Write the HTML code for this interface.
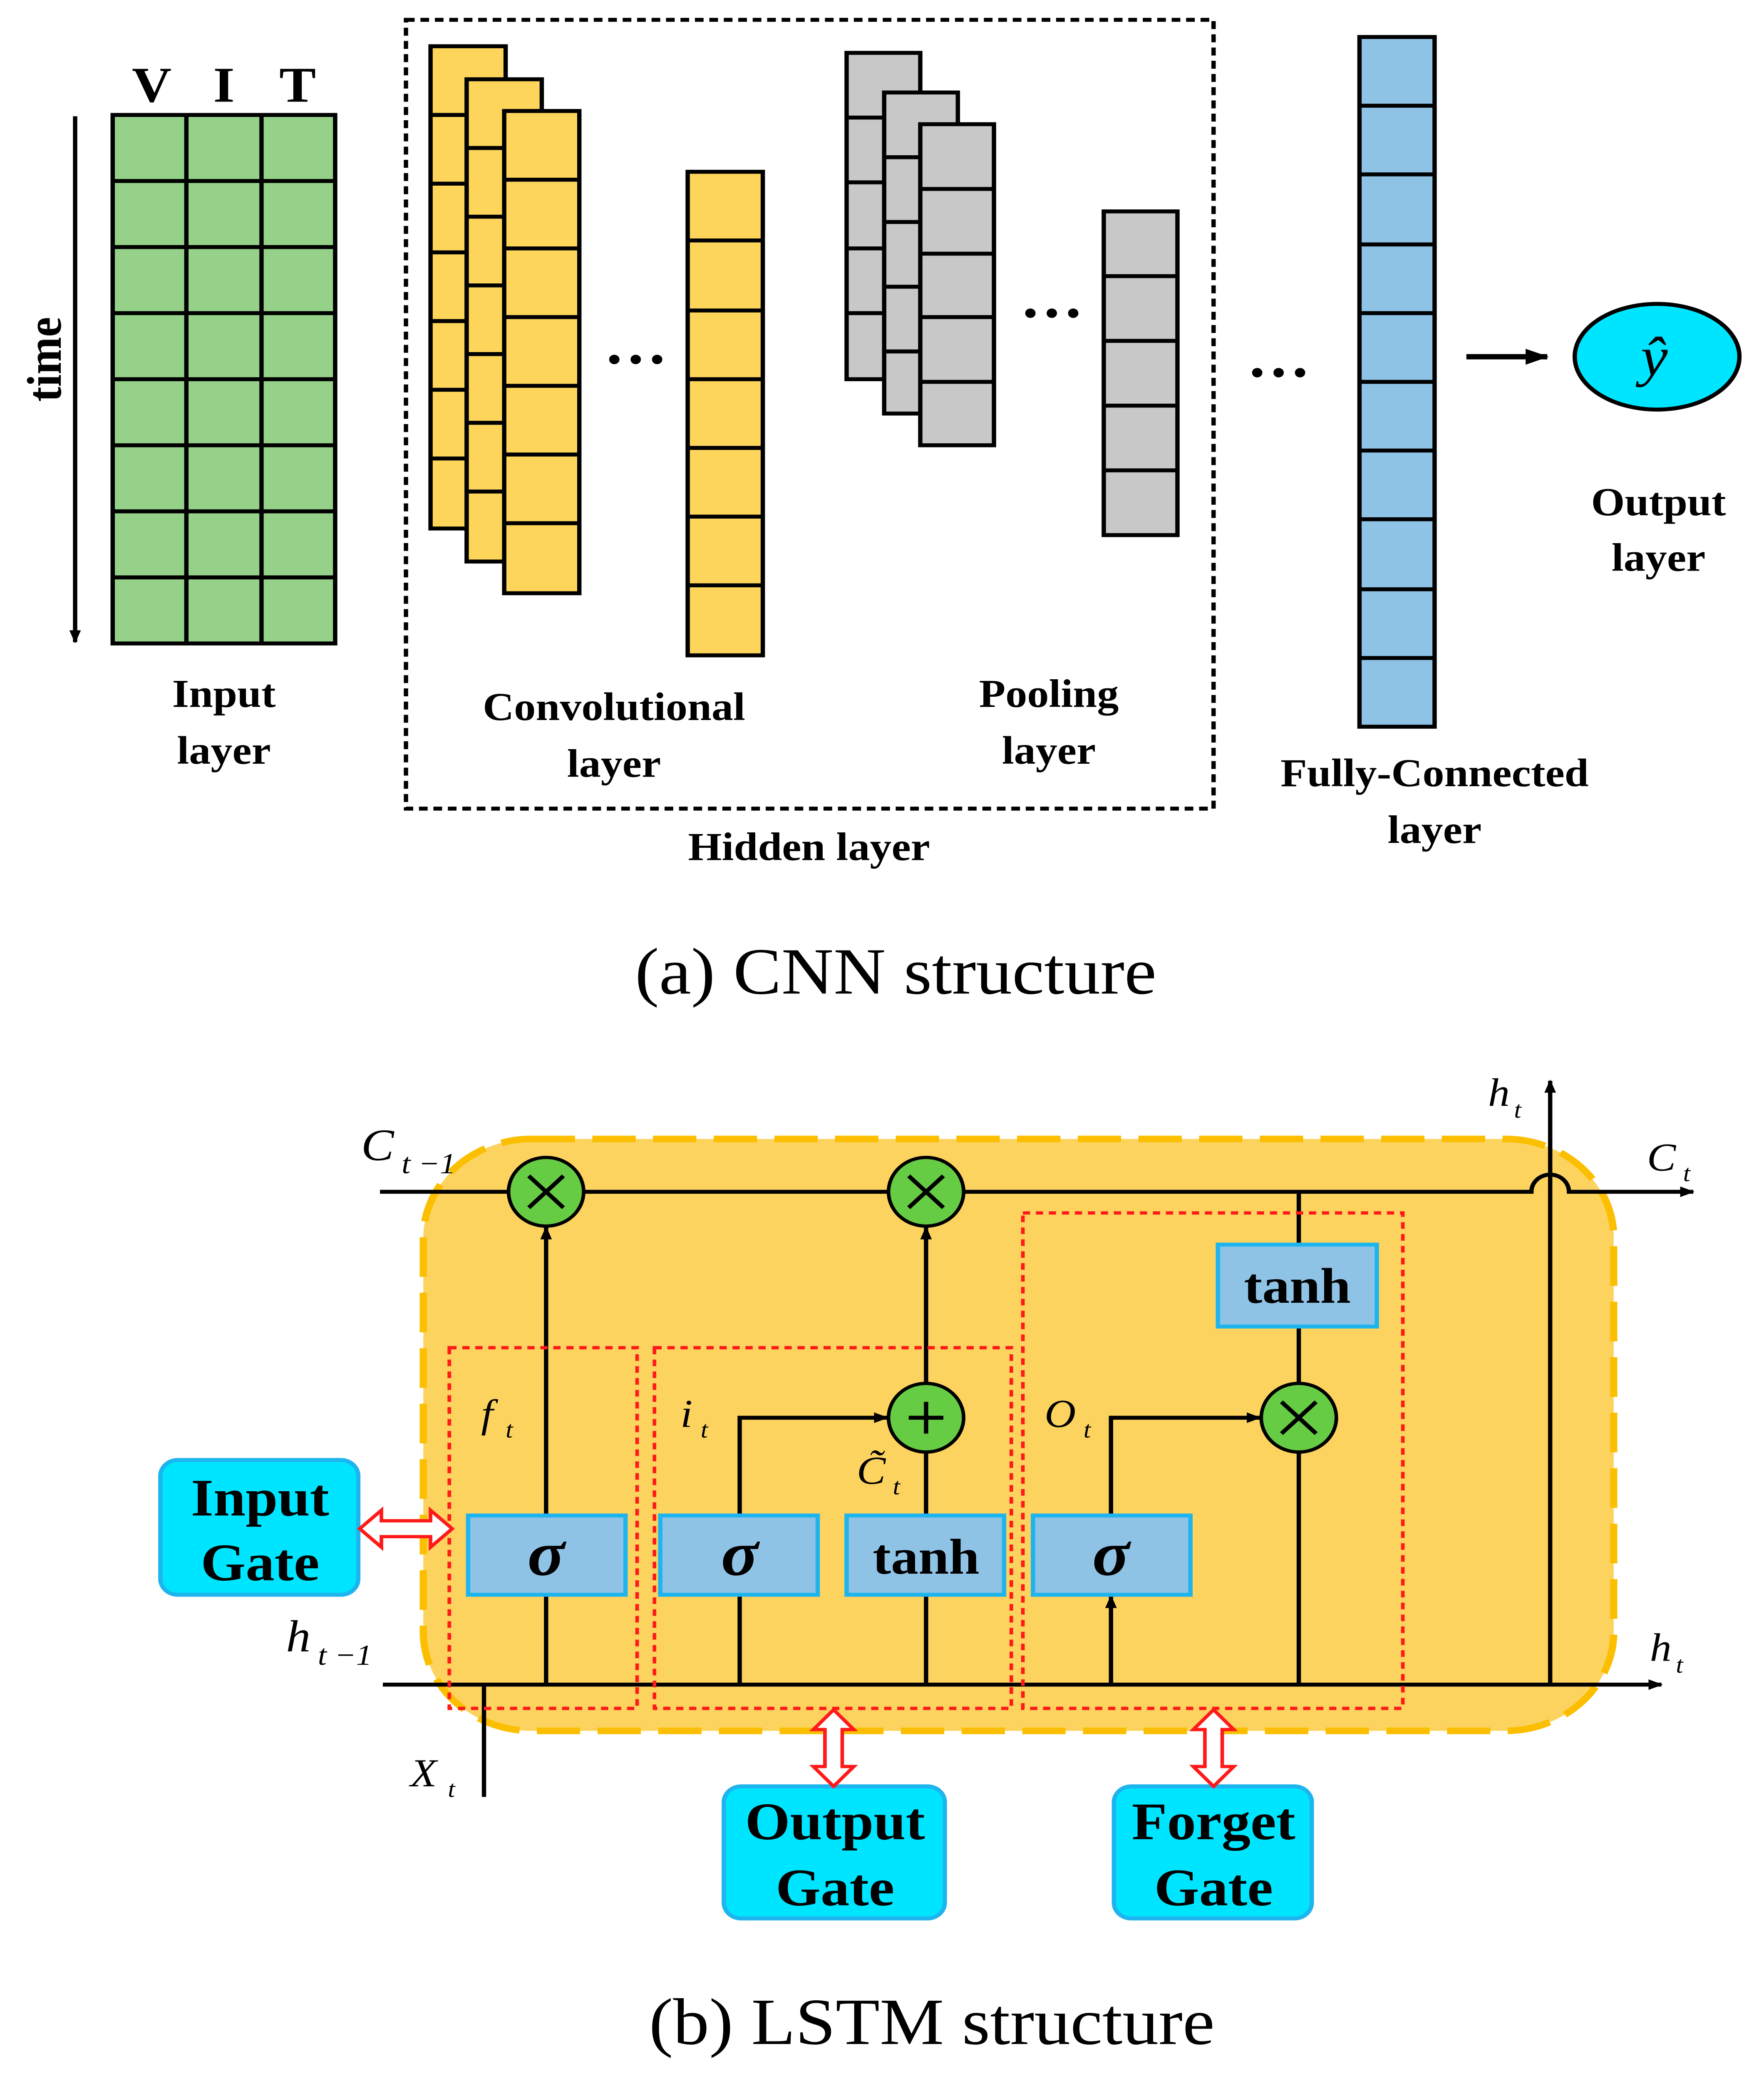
<!DOCTYPE html>
<html><head><meta charset="utf-8"><style>
html,body{margin:0;padding:0;background:#fff;width:100vw;height:100vh;overflow:hidden;}
svg{display:block;width:100vw;height:100vh;}
text{font-family:"Liberation Serif",serif;}
.b{font-weight:bold;text-anchor:middle;}
.i{font-style:italic;}
</style></head><body>
<svg viewBox="0 0 1221 1575" preserveAspectRatio="none" xmlns="http://www.w3.org/2000/svg">
<defs>
<marker id="ar" markerWidth="10" markerHeight="10" refX="9" refY="5" orient="auto" markerUnits="userSpaceOnUse"><path d="M0,1 L10,5 L0,9 Z" fill="#000"/></marker>
<marker id="ar2" markerWidth="16" markerHeight="14" refX="15" refY="7" orient="auto" markerUnits="userSpaceOnUse"><path d="M0,1 L16,7 L0,13 Z" fill="#000"/></marker>
</defs>
<rect width="1221" height="1575" fill="#fff"/>

<text x="105" y="77" class="b" style="font-size:38px">V</text>
<text x="155" y="77" class="b" style="font-size:38px">I</text>
<text x="206" y="77" class="b" style="font-size:38px">T</text>
<rect x="78" y="87" width="154" height="400" fill="#96d18a" stroke="#000" stroke-width="3"/>
<g stroke="#000" stroke-width="3">
<line x1="129" y1="87" x2="129" y2="487"/><line x1="181" y1="87" x2="181" y2="487"/>
<line x1="78" y1="137" x2="232" y2="137"/><line x1="78" y1="187" x2="232" y2="187"/>
<line x1="78" y1="237" x2="232" y2="237"/><line x1="78" y1="287" x2="232" y2="287"/>
<line x1="78" y1="337" x2="232" y2="337"/><line x1="78" y1="387" x2="232" y2="387"/>
<line x1="78" y1="437" x2="232" y2="437"/>
<line x1="52" y1="88" x2="52" y2="486" marker-end="url(#ar)"/>
</g>
<text transform="translate(42,272) rotate(-90)" class="b" style="font-size:34px">time</text>
<text x="155" y="535" class="b" style="font-size:30px">Input</text><text x="155" y="578" class="b" style="font-size:30px">layer</text>

<rect x="281" y="15" width="559" height="597" fill="none" stroke="#000" stroke-width="3" stroke-dasharray="6,4"/>

<g stroke="#000" stroke-width="3" fill="#fdd55b">
<rect x="298" y="35" width="52" height="365"/>
<path d="M298 87H350M298 139H350M298 191H350M298 243H350M298 295H350M298 347H350"/>
<rect x="323" y="60" width="52" height="365"/>
<path d="M323 112H375M323 164H375M323 216H375M323 268H375M323 320H375M323 372H375"/>
<rect x="349" y="84" width="52" height="365"/>
<path d="M349 136H401M349 188H401M349 240H401M349 292H401M349 344H401M349 396H401"/>
<rect x="476" y="130" width="52" height="366"/>
<path d="M476 182H528M476 235H528M476 287H528M476 339H528M476 391H528M476 443H528"/>
</g>
<g fill="#c8c8c8" stroke="#000" stroke-width="3">
<rect x="586" y="40" width="51" height="247"/>
<path d="M586 89H637M586 138H637M586 188H637M586 237H637"/>
<rect x="612" y="70" width="51" height="243"/>
<path d="M612 119H663M612 168H663M612 217H663M612 266H663"/>
<rect x="637" y="94" width="51" height="243"/>
<path d="M637 143H688M637 192H688M637 240H688M637 289H688"/>
<rect x="764" y="160" width="51" height="245"/>
<path d="M764 209H815M764 258H815M764 307H815M764 356H815"/>
</g>
<text x="440" y="275" class="b" style="font-size:44px">…</text>
<text x="728" y="240" class="b" style="font-size:44px">…</text>
<text x="885" y="285" class="b" style="font-size:44px">…</text>
<text x="425" y="545" class="b" style="font-size:30px">Convolutional</text><text x="425" y="588" class="b" style="font-size:30px">layer</text>
<text x="726" y="535" class="b" style="font-size:30px">Pooling</text><text x="726" y="578" class="b" style="font-size:30px">layer</text>
<text x="560" y="651" class="b" style="font-size:30px">Hidden layer</text>

<g fill="#8fc3e6" stroke="#000" stroke-width="3">
<rect x="941" y="28" width="52" height="522"/>
<path d="M941 80H993M941 132H993M941 185H993M941 237H993M941 289H993M941 341H993M941 393H993M941 446H993M941 498H993"/>
</g>
<text x="993" y="595" class="b" style="font-size:30px">Fully-Connected</text><text x="993" y="638" class="b" style="font-size:30px">layer</text>
<line x1="1015" y1="270" x2="1071" y2="270" stroke="#000" stroke-width="4" marker-end="url(#ar2)"/>
<ellipse cx="1147" cy="270" rx="57" ry="40" fill="#00e5ff" stroke="#000" stroke-width="3"/>
<text x="1145" y="284" class="i" style="font-size:42px" text-anchor="middle">ŷ</text>
<text x="1148" y="390" class="b" style="font-size:30px">Output</text><text x="1148" y="432" class="b" style="font-size:30px">layer</text>
<text x="620" y="752" style="font-size:50px" text-anchor="middle">(a) CNN structure</text>

<rect x="293" y="862" width="824" height="448" rx="75" fill="#fdd35f" stroke="#fbbf00" stroke-width="5" stroke-dasharray="30,12"/>
<g stroke="#000" stroke-width="3" fill="none">
<path d="M263 902H1060A13 13 0 0 1 1086 902H1172" marker-end="url(#ar)"/>
<line x1="1073" y1="1275" x2="1073" y2="818" marker-end="url(#ar)"/>
<line x1="265" y1="1275" x2="1150" y2="1275" marker-end="url(#ar)"/>
<line x1="335" y1="1275" x2="335" y2="1360"/>
<line x1="378" y1="1275" x2="378" y2="1207"/>
<line x1="378" y1="1147" x2="378" y2="929" marker-end="url(#ar)"/>
<line x1="512" y1="1275" x2="512" y2="1207"/>
<path d="M512 1147V1073H614" marker-end="url(#ar)"/>
<line x1="641" y1="1275" x2="641" y2="1207"/>
<line x1="641" y1="1147" x2="641" y2="1099"/>
<line x1="641" y1="1047" x2="641" y2="929" marker-end="url(#ar)"/>
<line x1="769" y1="1275" x2="769" y2="1208" marker-end="url(#ar)"/>
<path d="M769 1147V1073H872" marker-end="url(#ar)"/>
<line x1="899" y1="902" x2="899" y2="942"/>
<line x1="899" y1="1004" x2="899" y2="1047"/>
<path d="M899 1099V1275"/>
</g>
<g fill="none" stroke="#ff1a1a" stroke-width="2.5" stroke-dasharray="5,4">
<rect x="311" y="1020" width="130" height="273"/>
<rect x="453" y="1020" width="247" height="273"/>
<rect x="708" y="918" width="263" height="375"/>
</g>
<g fill="#8fc3e6" stroke="#1eb4ee" stroke-width="3">
<rect x="324" y="1147" width="109" height="60"/>
<rect x="457" y="1147" width="109" height="60"/>
<rect x="586" y="1147" width="109" height="60"/>
<rect x="715" y="1147" width="109" height="60"/>
<rect x="843" y="942" width="110" height="62"/>
</g>
<text x="378" y="1192" class="i" style="font-size:48px;font-weight:bold" text-anchor="middle">σ</text>
<text x="512" y="1192" class="i" style="font-size:48px;font-weight:bold" text-anchor="middle">σ</text>
<text x="769" y="1192" class="i" style="font-size:48px;font-weight:bold" text-anchor="middle">σ</text>
<text x="641" y="1191" class="b" style="font-size:38px">tanh</text>
<text x="898" y="986" class="b" style="font-size:38px">tanh</text>
<g fill="#66cc44" stroke="#000" stroke-width="2.5">
<circle cx="378" cy="902" r="26"/><circle cx="641" cy="902" r="26"/>
<circle cx="641" cy="1073" r="26"/><circle cx="899" cy="1073" r="26"/>
</g>
<g stroke="#000" stroke-width="3">
<path d="M366 890L390 914M390 890L366 914"/><path d="M629 890L653 914M653 890L629 914"/>
<path d="M887 1061L911 1085M911 1061L887 1085"/><path d="M641 1061V1085M629 1073H653"/>
</g>
<text x="333" y="1080" class="i" style="font-size:30px">f</text><text x="350" y="1088" class="i" style="font-size:18px">t</text>
<text x="471" y="1080" class="i" style="font-size:30px">i</text><text x="485" y="1088" class="i" style="font-size:18px">t</text>
<text x="593" y="1123" class="i" style="font-size:30px">C̃</text><text x="618" y="1131" class="i" style="font-size:18px">t</text>
<text x="723" y="1080" class="i" style="font-size:30px">O</text><text x="750" y="1088" class="i" style="font-size:18px">t</text>
<text x="250" y="878" class="i" style="font-size:34px">C</text><text x="278" y="888" class="i" style="font-size:22px">t −1</text>
<text x="1140" y="886" class="i" style="font-size:30px">C</text><text x="1165" y="894" class="i" style="font-size:18px">t</text>
<text x="198" y="1250" class="i" style="font-size:34px">h</text><text x="220" y="1260" class="i" style="font-size:22px">t −1</text>
<text x="1142" y="1257" class="i" style="font-size:30px">h</text><text x="1160" y="1266" class="i" style="font-size:18px">t</text>
<text x="1030" y="837" class="i" style="font-size:30px">h</text><text x="1048" y="846" class="i" style="font-size:18px">t</text>
<text x="284" y="1352" class="i" style="font-size:30px">X</text><text x="310" y="1360" class="i" style="font-size:18px">t</text>

<g fill="#00e5ff" stroke="#1eb4ee" stroke-width="3">
<rect x="111" y="1105" width="137" height="102" rx="12"/>
<rect x="501" y="1352" width="153" height="100" rx="12"/>
<rect x="771" y="1352" width="137" height="100" rx="12"/>
</g>
<text x="180" y="1147" class="b" style="font-size:40px">Input</text><text x="180" y="1196" class="b" style="font-size:40px">Gate</text>
<text x="578" y="1392" class="b" style="font-size:40px">Output</text><text x="578" y="1442" class="b" style="font-size:40px">Gate</text>
<text x="840" y="1392" class="b" style="font-size:40px">Forget</text><text x="840" y="1442" class="b" style="font-size:40px">Gate</text>
<g fill="#fff" stroke="#ff1a1a" stroke-width="2.5">
<polygon points="249,1157 264,1143 264,1151 298,1151 298,1143 313,1157 298,1171 298,1163 264,1163 264,1171"/>
<polygon points="577,1294 591,1309 583,1309 583,1337 591,1337 577,1352 563,1337 571,1337 571,1309 563,1309"/>
<polygon points="840,1294 854,1309 846,1309 846,1337 854,1337 840,1352 826,1337 834,1337 834,1309 826,1309"/>
</g>
<text x="645" y="1547" style="font-size:50px" text-anchor="middle">(b) LSTM structure</text>
</svg>
</body></html>
